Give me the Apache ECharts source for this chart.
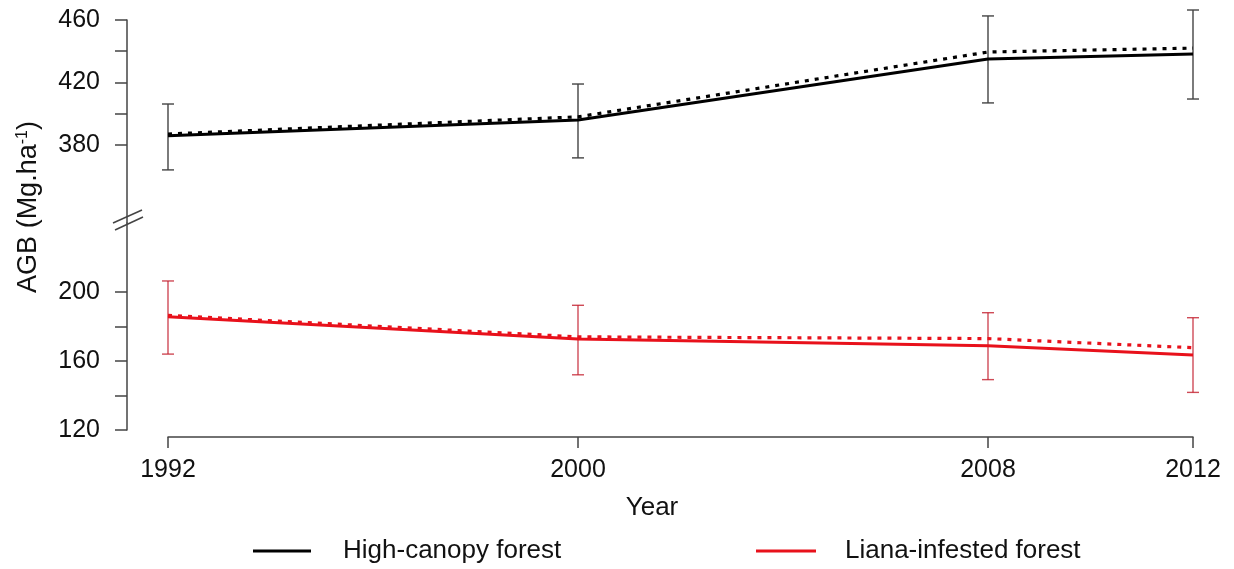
<!DOCTYPE html>
<html>
<head>
<meta charset="utf-8">
<script src="https://cdn.jsdelivr.net/npm/echarts@6/dist/echarts.min.js"></script>
<style>html,body{margin:0;padding:0;background:#fff}#c{width:1234px;height:569px}</style>
</head>
<body>
<div id="c"></div>
<script>
// ---- data ----
const years = [1992, 2000, 2008, 2012];
const highCanopySolid = [385.8, 396, 435, 438.2];
const highCanopyDotted = [387, 398, 439.5, 442];
const highCanopyErrLow = [364, 371.7, 406.9, 409.4];
const highCanopyErrHigh = [406.2, 419, 462.6, 466.4];
const lianaSolid = [185.7, 172.8, 168.9, 163.5];
const lianaDotted = [186.5, 174, 173, 167.7];
const lianaErrLow = [164, 152, 149.2, 141.8];
const lianaErrHigh = [206.4, 192.3, 188, 185.1];
const topTicks = [380, 400, 420, 440, 460];
const topLabels = [380, 420, 460];
const bottomTicks = [120, 140, 160, 180, 200];
const bottomLabels = [120, 160, 200];
const seriesNames = ['High-canopy forest', 'Liana-infested forest'];

const FONT = '"Liberation Sans", Arial, sans-serif';
const axisColor = '#444';
const chart = echarts.init(document.getElementById('c'));

function pairs(vals) { return years.map((y, i) => [y, vals[i]]); }
function errData(lo, hi) { return years.map((y, i) => [y, lo[i], hi[i]]); }
function errSeries(name, idx, lo, hi, color) {
  return {
    name: name, type: 'custom', xAxisIndex: idx, yAxisIndex: idx, clip: false, z: 1,
    data: errData(lo, hi),
    renderItem: function (params, api) {
      const x = api.value(0);
      const pLo = api.coord([x, api.value(1)]);
      const pHi = api.coord([x, api.value(2)]);
      const w = 6;
      const st = { stroke: color, lineWidth: 1.4 };
      return { type: 'group', children: [
        { type: 'line', shape: { x1: pLo[0], y1: pLo[1], x2: pHi[0], y2: pHi[1] }, style: st },
        { type: 'line', shape: { x1: pLo[0] - w, y1: pLo[1], x2: pLo[0] + w, y2: pLo[1] }, style: st },
        { type: 'line', shape: { x1: pHi[0] - w, y1: pHi[1], x2: pHi[0] + w, y2: pHi[1] }, style: st }
      ]};
    }
  };
}
function lineSeries(name, idx, vals, color, dotted) {
  return {
    name: name, type: 'line', xAxisIndex: idx, yAxisIndex: idx, data: pairs(vals),
    symbol: 'none', z: dotted ? 3 : 2, clip: false,
    lineStyle: { color: color, width: dotted ? 3.2 : 3, type: dotted ? [4, 6] : 'solid' },
    itemStyle: { color: color }
  };
}

const yAxisCommon = {
  type: 'value', offset: 41,
  axisLine: { show: true, lineStyle: { color: axisColor, width: 1.5 } },
  axisTick: { show: true, length: 12, lineStyle: { color: axisColor, width: 1.5 } },
  axisLabel: { color: '#111', fontSize: 25, fontFamily: FONT, margin: 27 },
  splitLine: { show: false }
};

const option = {
  backgroundColor: '#fff',
  animation: false,
  grid: [
    { left: 168, right: 41, top: 20, height: 203 },
    { left: 168, right: 41, top: 223, height: 207 }
  ],
  xAxis: [
    { gridIndex: 0, type: 'value', min: 1992, max: 2012, show: false },
    { gridIndex: 1, type: 'value', min: 1992, max: 2012, offset: 7,
      axisLine: { show: true, lineStyle: { color: axisColor, width: 1.5 } },
      axisTick: { show: true, length: 11, customValues: years, lineStyle: { color: axisColor, width: 1.5 } },
      axisLabel: { customValues: years, formatter: v => String(v), color: '#111', fontSize: 25, fontFamily: FONT, margin: 21 },
      splitLine: { show: false } }
  ],
  yAxis: [
    Object.assign({}, yAxisCommon, { gridIndex: 0, min: 330, max: 460,
      axisTick: Object.assign({}, yAxisCommon.axisTick, { customValues: topTicks }),
      axisLabel: Object.assign({}, yAxisCommon.axisLabel, { customValues: topLabels }) }),
    Object.assign({}, yAxisCommon, { gridIndex: 1, min: 120, max: 240,
      axisTick: Object.assign({}, yAxisCommon.axisTick, { customValues: bottomTicks }),
      axisLabel: Object.assign({}, yAxisCommon.axisLabel, { customValues: bottomLabels }) })
  ],
  legend: [
    { data: [{ name: seriesNames[0], icon: 'rect' }], left: 248, top: 533,
      itemWidth: 58, itemHeight: 3, selectedMode: false,
      textStyle: { fontSize: 26, fontFamily: FONT, color: '#111', padding: [0, 0, 0, 27] } },
    { data: [{ name: seriesNames[1], icon: 'rect' }], left: 751, top: 533,
      itemWidth: 60, itemHeight: 3, selectedMode: false,
      textStyle: { fontSize: 26, fontFamily: FONT, color: '#111', padding: [0, 0, 0, 24] } }
  ],
  graphic: [
    { type: 'text', x: 29, y: 207, rotation: Math.PI / 2,
      style: { text: '{a|AGB (Mg.ha}{s|-1}{a|)}', align: 'center', verticalAlign: 'middle',
        rich: { a: { fontSize: 27, fontFamily: FONT, fill: '#111', color: '#111' },
                s: { fontSize: 16, fontFamily: FONT, fill: '#111', color: '#111', verticalAlign: 'top', padding: [0, 0, 12, 0] } } } },
    { type: 'text', x: 652, y: 508,
      style: { text: 'Year', fontSize: 26, fontFamily: FONT, fill: '#111', align: 'center', verticalAlign: 'middle' } },
    { type: 'line', shape: { x1: 113, y1: 223, x2: 142, y2: 210 }, style: { stroke: '#444', lineWidth: 1.5 } },
    { type: 'line', shape: { x1: 115, y1: 230, x2: 143, y2: 217 }, style: { stroke: '#444', lineWidth: 1.5 } }
  ],
  series: [
    errSeries('hcErr', 0, highCanopyErrLow, highCanopyErrHigh, '#444'),
    lineSeries(seriesNames[0], 0, highCanopySolid, '#000', false),
    lineSeries('High-canopy dotted', 0, highCanopyDotted, '#000', true),
    errSeries('liErr', 1, lianaErrLow, lianaErrHigh, 'rgba(195,30,45,0.8)'),
    lineSeries(seriesNames[1], 1, lianaSolid, '#e8111b', false),
    lineSeries('Liana dotted', 1, lianaDotted, '#e8111b', true)
  ]
};
chart.setOption(option);
</script>
</body>
</html>
